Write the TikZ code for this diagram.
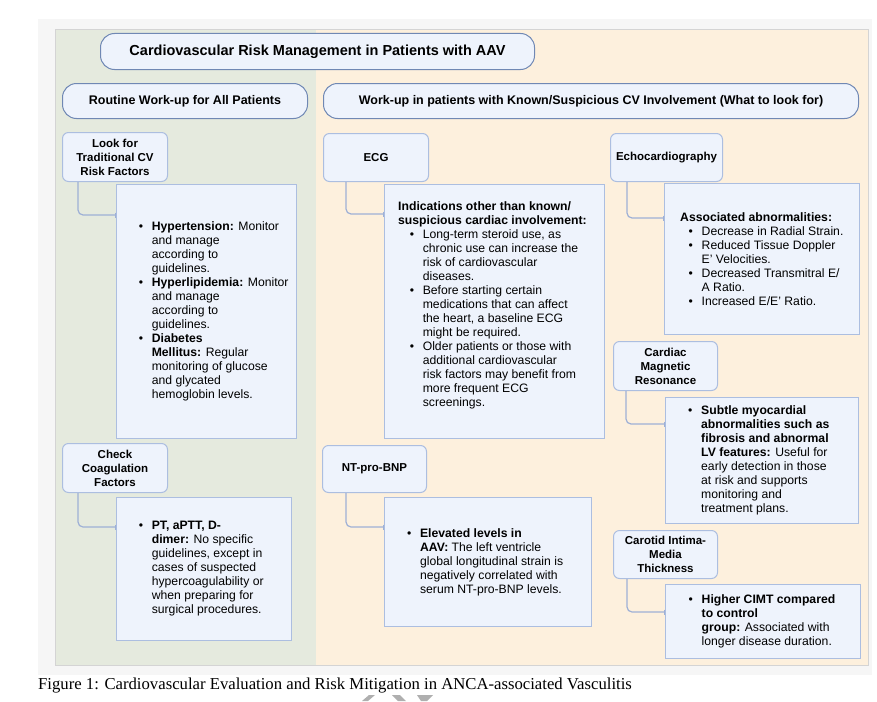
\documentclass[tikz,border=0pt]{standalone}
\usepackage{fontspec}
\setmainfont{Liberation Sans}
\newfontfamily\capfont{Liberation Serif}
\usetikzlibrary{arrows.meta}
\definecolor{outerbg}{RGB}{246,246,246}
\definecolor{greenbg}{RGB}{229,234,222}
\definecolor{orangebg}{RGB}{253,240,221}
\definecolor{panelline}{RGB}{212,212,212}
\definecolor{boxfill}{RGB}{238,243,252}
\definecolor{boxline}{RGB}{172,190,224}
\definecolor{pillline}{RGB}{112,136,180}
\definecolor{conline}{RGB}{158,176,214}
\definecolor{markgray}{RGB}{175,175,175}
\newcommand\bl{\makebox[13pt][l]{\textbullet}}
\newcommand\ind{\hspace*{13pt}}
\newcommand\hb[1]{\hspace*{#1}\bl}
\newcommand\hi[1]{\hspace*{\dimexpr#1+13pt\relax}}
\tikzset{
 pill/.style={draw=pillline, line width=1pt, fill=boxfill, rounded corners=14pt, inner sep=0pt,
   anchor=north west, font=\bfseries\fontsize{12.5}{15}\selectfont},
 hbox/.style={draw=boxline, line width=1pt, fill=boxfill, rounded corners=6pt, align=center,
   anchor=north west, inner sep=0pt, font=\bfseries\fontsize{11.5}{14}\selectfont},
 cbox/.style={draw=boxline, line width=1pt, fill=boxfill, inner sep=0pt, anchor=north west},
 ctext/.style={align=left, font=\fontsize{12.2}{14}\selectfont, inner sep=0pt, anchor=west},
 link/.style={draw=conline, line width=1.2pt, rounded corners=5pt, -{Bar[width=5pt,line width=1pt]}}
}
\begin{document}
\begin{tikzpicture}[x=1pt,y=-1pt]
\useasboundingbox (0,0) rectangle (877,701);
\fill[white] (0,0) rectangle (877,701);
% panels
\fill[outerbg] (38,19) rectangle (872,675);
\fill[greenbg] (55,29) rectangle (316,665);
\fill[orangebg] (316,29) rectangle (868,665);
\draw[panelline, line width=0.8pt] (55,29) rectangle (868,665);
% headers
\node[pill, minimum width=434pt, minimum height=36pt] (title) at (100,33)
  {\fontsize{14.5}{17}\selectfont Cardiovascular Risk Management in Patients with AAV};
\node[pill, minimum width=245pt, minimum height=35pt] (routine) at (62,83)
  {Routine Work-up for All Patients};
\node[pill, minimum width=535pt, minimum height=35pt] (known) at (323,83)
  {Work-up in patients with Known/Suspicious CV Involvement (What to look for)};
% left column
\node[hbox, minimum width=105pt, minimum height=49pt] (L1) at (62,132)
  {Look for\\Traditional CV\\Risk Factors};
\node[cbox, minimum width=180pt, minimum height=254pt] (L1c) at (116,184) {};
\node[ctext] (L1t) at ([xshift=22.6pt]L1c.west)
  {\bl\textbf{Hypertension:} Monitor\\
   \ind and manage\\
   \ind according to\\
   \ind guidelines.\\
   \bl\textbf{Hyperlipidemia:} Monitor\\
   \ind and manage\\
   \ind according to\\
   \ind guidelines.\\
   \bl\textbf{Diabetes}\\
   \ind\textbf{Mellitus:} Regular\\
   \ind monitoring of glucose\\
   \ind and glycated\\
   \ind hemoglobin levels.};
\draw[link] ([xshift=16pt]L1.south west) |- ([yshift=-31pt]L1c.north west);
\node[hbox, minimum width=105pt, minimum height=49pt] (L2) at (62,443)
  {Check\\Coagulation\\Factors};
\node[cbox, minimum width=175pt, minimum height=143pt] (L2c) at (116,497) {};
\node[ctext] (L2t) at ([xshift=22.6pt]L2c.west)
  {\bl\textbf{PT, aPTT, D-}\\
   \ind\textbf{dimer:} No specific\\
   \ind guidelines, except in\\
   \ind cases of suspected\\
   \ind hypercoagulability or\\
   \ind when preparing for\\
   \ind surgical procedures.};
\draw[link] ([xshift=16pt]L2.south west) |- ([yshift=-30pt]L2c.north west);
% middle column
\node[hbox, minimum width=105pt, minimum height=48pt] (M1) at (323,133) {ECG};
\node[cbox, minimum width=220pt, minimum height=254pt] (M1c) at (384,184) {};
\node[ctext] (M1t) at ([xshift=14pt,yshift=6pt]M1c.west)
  {\textbf{Indications other than known/}\\
   \textbf{suspicious cardiac involvement:}\\
   \hb{11.6pt}Long-term steroid use, as\\
   \hi{11.6pt}chronic use can increase the\\
   \hi{11.6pt}risk of cardiovascular\\
   \hi{11.6pt}diseases.\\
   \hb{11.6pt}Before starting certain\\
   \hi{11.6pt}medications that can affect\\
   \hi{11.6pt}the heart, a baseline ECG\\
   \hi{11.6pt}might be required.\\
   \hb{11.6pt}Older patients or those with\\
   \hi{11.6pt}additional cardiovascular\\
   \hi{11.6pt}risk factors may benefit from\\
   \hi{11.6pt}more frequent ECG\\
   \hi{11.6pt}screenings.};
\draw[link] ([xshift=23pt]M1.south west) |- ([yshift=-30pt]M1c.north west);
\node[hbox, minimum width=104pt, minimum height=47pt] (M2) at (322,445) {NT-pro-BNP};
\node[cbox, minimum width=207pt, minimum height=129pt] (M2c) at (384,497) {};
\node[ctext] (M2t) at ([xshift=22.9pt]M2c.west)
  {\bl\textbf{Elevated levels in}\\
   \ind\textbf{AAV:} The left ventricle\\
   \ind global longitudinal strain is\\
   \ind negatively correlated with\\
   \ind serum NT-pro-BNP levels.};
\draw[link] ([xshift=24pt]M2.south west) |- ([yshift=-30pt]M2c.north west);
% right column
\node[hbox, minimum width=112pt, minimum height=48pt] (R1) at (610,133) {Echocardiography};
\node[cbox, minimum width=195pt, minimum height=151pt] (R1c) at (664,183) {};
\node[ctext] (R1t) at ([xshift=16pt]R1c.west)
  {\textbf{Associated abnormalities:}\\
   \hb{8.5pt}Decrease in Radial Strain.\\
   \hb{8.5pt}Reduced Tissue Doppler\\
   \hi{8.5pt}E’ Velocities.\\
   \hb{8.5pt}Decreased Transmitral E/\\
   \hi{8.5pt}A Ratio.\\
   \hb{8.5pt}Increased E/E’ Ratio.};
\draw[link] ([xshift=17pt]R1.south west) |- ([yshift=-35pt]R1c.north west);
\node[hbox, minimum width=104pt, minimum height=49pt] (R2) at (613,341)
  {Cardiac\\Magnetic\\Resonance};
\node[cbox, minimum width=193pt, minimum height=126pt] (R2c) at (665,397) {};
\node[ctext] (R2t) at ([xshift=23pt]R2c.west)
  {\bl\textbf{Subtle myocardial}\\
   \ind\textbf{abnormalities such as}\\
   \ind\textbf{fibrosis and abnormal}\\
   \ind\textbf{LV features:} Useful for\\
   \ind early detection in those\\
   \ind at risk and supports\\
   \ind monitoring and\\
   \ind treatment plans.};
\draw[link] ([xshift=13pt]R2.south west) |- ([yshift=-27pt]R2c.north west);
\node[hbox, minimum width=104pt, minimum height=48pt] (R3) at (613,530)
  {Carotid Intima-\\Media\\Thickness};
\node[cbox, minimum width=195pt, minimum height=74pt] (R3c) at (665,584) {};
\node[ctext] (R3t) at ([xshift=23.5pt]R3c.west)
  {\bl\textbf{Higher CIMT compared}\\
   \ind\textbf{to control}\\
   \ind\textbf{group:} Associated with\\
   \ind longer disease duration.};
\draw[link] ([xshift=14pt]R3.south west) |- ([yshift=-28pt]R3c.north west);
% caption
\node[anchor=base west, inner sep=0pt, font=\capfont\fontsize{16.7}{20}\selectfont] (cap) at (38,689)
  {Figure 1: Cardiovascular Evaluation and Risk Mitigation in ANCA-associated Vasculitis};
% cut-off mark at the bottom
\fill[markgray] (362,701) -- (368,701) -- (375,695) -- (369,695) -- cycle;
\fill[markgray] (392,695) -- (400,695) -- (406,701) -- (398,701) -- cycle;
\fill[markgray] (417,695) -- (433,695) -- (427,701) -- (421,701) -- cycle;
\end{tikzpicture}
\end{document}
